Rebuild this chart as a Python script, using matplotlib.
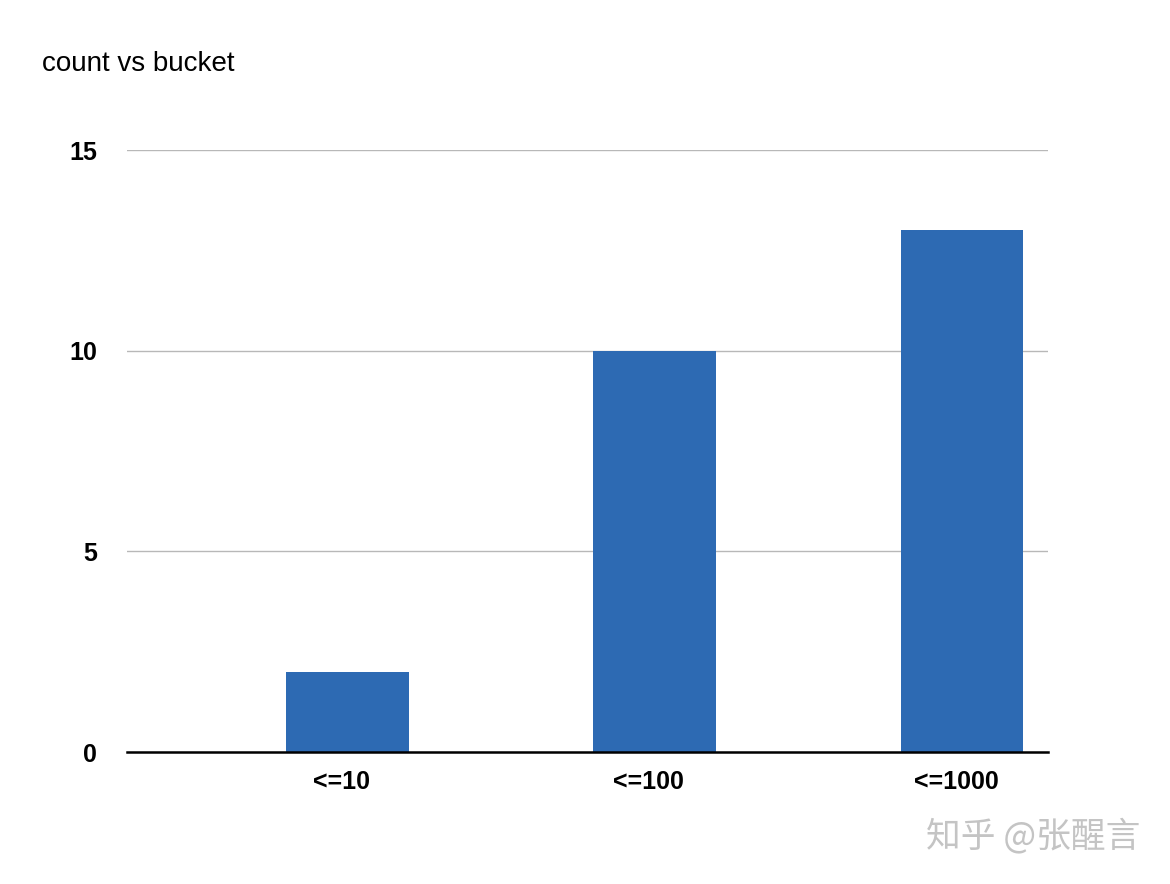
import matplotlib
matplotlib.use('Agg')
import matplotlib.pyplot as plt
import matplotlib.transforms as mtransforms

# data
buckets = ['<=10', '<=100', '<=1000']
counts = [2, 10, 13]
yticks = [0, 5, 10, 15]

plt.rcParams['font.family'] = ['Liberation Sans', 'DejaVu Sans', 'Noto Sans CJK SC']

fig = plt.figure(figsize=(11.7, 8.84), dpi=100)
ax = fig.add_axes([0.1085, 0.1493, 0.7872, 0.681])

x_pos = [i for i, _ in enumerate(buckets)]
ax.bar(x_pos, counts, width=0.4, color='#2d6ab3', zorder=3)

ax.set_xlim(-0.718, 2.28)
ax.set_ylim(0, 15)
ax.set_yticks(yticks)
ax.set_yticklabels([str(t) for t in yticks], fontsize=18, fontweight='bold')
ax.set_xticks(x_pos)
ax.set_xticklabels(buckets, fontsize=18, fontweight='bold')
ax.tick_params(axis='both', length=0)
ax.tick_params(axis='y', pad=21.5)
ax.tick_params(axis='x', pad=13)

# labels sit a little left of the bar centres in the original
shift = mtransforms.ScaledTranslation(-6 / 100, 0, fig.dpi_scale_trans)
for lbl in ax.get_xticklabels():
    lbl.set_transform(lbl.get_transform() + shift)

ax.grid(axis='y', color='#b8b8b8', linewidth=1, zorder=0)
for side in ['top', 'right', 'left']:
    ax.spines[side].set_visible(False)
ax.spines['bottom'].set_linewidth(1.8)
ax.spines['bottom'].set_zorder(4)

fig.text(42 / 1170, 1 - 64 / 884, 'count vs bucket', fontsize=20, va='center', ha='left')

# watermark
fig.text(1140 / 1170, 1 - 836 / 884, '知乎 @张醒言', fontsize=25, color='#c4c4c4',
         ha='right', va='center', family=['Noto Sans CJK SC', 'DejaVu Sans'])

fig.savefig('out.png', dpi=100)
